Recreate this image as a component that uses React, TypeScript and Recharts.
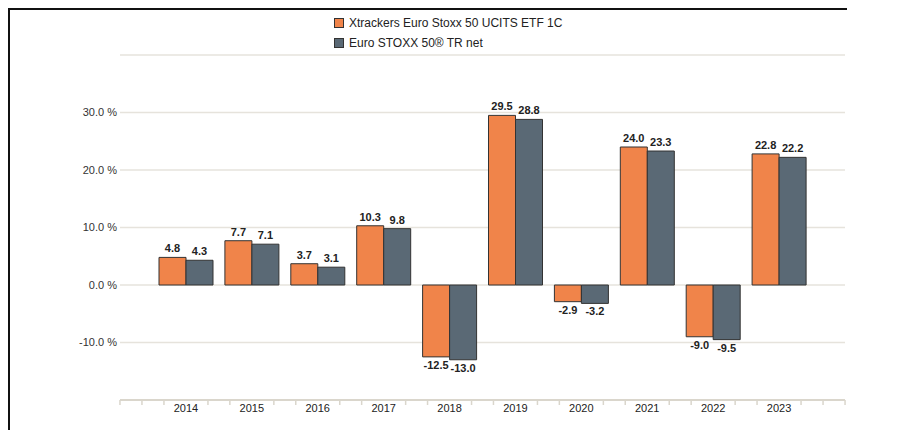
import React from 'react';
import { BarChart, Bar, XAxis, YAxis, CartesianGrid, LabelList } from 'recharts';

const years = ['2014', '2015', '2016', '2017', '2018', '2019', '2020', '2021', '2022', '2023'];
const etfValues = [4.8, 7.7, 3.7, 10.3, -12.5, 29.5, -2.9, 24.0, -9.0, 22.8];
const indexValues = [4.3, 7.1, 3.1, 9.8, -13.0, 28.8, -3.2, 23.3, -9.5, 22.2];
const yTicks = [-20, -10, 0, 10, 20, 30, 40];
const seriesNames = ['Xtrackers Euro Stoxx 50 UCITS ETF 1C', 'Euro STOXX 50® TR net'];
const seriesColors = ['#F0844A', '#5A6975'];

const data = years.map((y, i) => ({ year: y, etf: etfValues[i], idx: indexValues[i] }));

const FONT = '"Liberation Sans", Arial, Helvetica, sans-serif';
const AXIS_COLOR = '#DAD6CC';

const BarLabel = (props: any) => {
  const { x, y, width, height, value } = props;
  const top = Math.min(y, y + height);
  const bottom = Math.max(y, y + height);
  const ty = value >= 0 ? top - 5 : bottom + 12;
  return (
    <text x={x + width / 2} y={ty} textAnchor="middle" fontSize={11} fontWeight="bold" fill="#222" fontFamily={FONT}>
      {Number(value).toFixed(1)}
    </text>
  );
};

const XTick = (props: any) => {
  const { x, y, payload, index, visibleTicksCount } = props;
  const step = 22;
  const offs = [-step, step];
  if (index === 0) offs.push(-2 * step, -3 * step);
  if (index === (visibleTicksCount ?? years.length) - 1) offs.push(2 * step, 3 * step);
  return (
    <g>
      {offs.map((o) => (
        <line key={o} x1={x + o} x2={x + o} y1={y - 8} y2={y - 3} stroke={AXIS_COLOR} strokeWidth={1.5} />
      ))}
      <text x={x} y={y + 4} textAnchor="middle" fontSize={11} fill="#222" fontFamily={FONT}>
        {payload.value}
      </text>
    </g>
  );
};

const LegendBox = () => (
  <div style={{ position: 'absolute', left: 326, top: 5, fontFamily: FONT, fontSize: 12, color: '#222', lineHeight: '20px' }}>
    {seriesNames.map((n, i) => (
      <div key={n} style={{ display: 'flex', alignItems: 'center', height: 20 }}>
        <span
          style={{
            display: 'inline-block',
            width: 8,
            height: 8,
            background: seriesColors[i],
            border: '1px solid #333',
            marginRight: 5,
          }}
        />
        <span>{n}</span>
      </div>
    ))}
  </div>
);

export default function App() {
  return (
    <div style={{ position: 'relative', width: 897, height: 422 }}>
      <div style={{ position: 'absolute', left: 0, top: 0 }}>
        <BarChart
          width={897}
          height={422}
          data={data}
          margin={{ top: 47, right: 60, bottom: 0, left: 0 }}
          barGap={0}
          barCategoryGap={6}
        >
          <CartesianGrid vertical={false} stroke="#E6E3DC" strokeWidth={1.5} />
          <XAxis
            dataKey="year"
            padding={{ left: 33, right: 33 }}
            axisLine={{ stroke: AXIS_COLOR, strokeWidth: 2 }}
            tickLine={false}
            tick={<XTick />}
            interval={0}
            height={30}
          />
          <YAxis
            domain={[-20, 40]}
            ticks={yTicks}
            width={112}
            axisLine={false}
            tickLine={false}
            tickSize={0}
            tickMargin={3}
            tick={{ fontSize: 11, fill: '#333', fontFamily: FONT }}
            tickFormatter={(v: number) => (v === -20 || v === 40 ? '' : `${v.toFixed(1)} %`)}
            allowDataOverflow
          />
          <Bar dataKey="etf" name={seriesNames[0]} fill={seriesColors[0]} stroke="#333" strokeWidth={1} isAnimationActive={false}>
            <LabelList dataKey="etf" content={<BarLabel />} />
          </Bar>
          <Bar dataKey="idx" name={seriesNames[1]} fill={seriesColors[1]} stroke="#333" strokeWidth={1} isAnimationActive={false}>
            <LabelList dataKey="idx" content={<BarLabel />} />
          </Bar>
        </BarChart>
      </div>
      <LegendBox />
      <div style={{ position: 'absolute', left: 0, top: 0, width: 839, height: 2, background: '#111' }} />
      <div style={{ position: 'absolute', left: 0, top: 0, width: 2, height: 422, background: '#111' }} />
    </div>
  );
}
